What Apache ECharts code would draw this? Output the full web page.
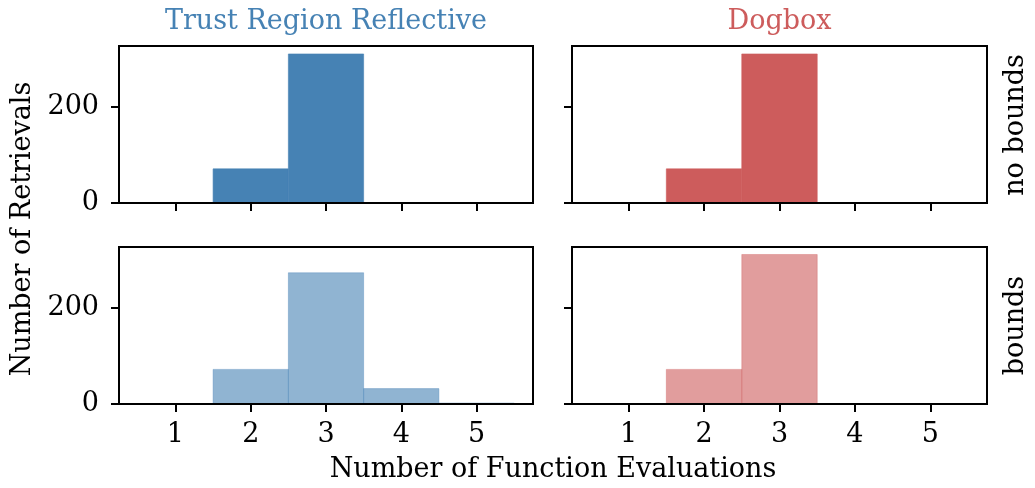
<!DOCTYPE html>
<html><head><meta charset="utf-8">
<script src="https://cdn.jsdelivr.net/npm/echarts@6/dist/echarts.min.js"></script>
<style>html,body{margin:0;padding:0;background:#fff}#c{width:1035px;height:488px}</style>
</head><body><div id="c"></div>
<script>
// Histogram bin centers (number of function evaluations)
const evals = [1, 2, 3, 4, 5];
// Counts per bin
const trfNoBounds = [0, 71, 310, 0, 0];
const dogNoBounds = [0, 71, 310, 0, 0];
const trfBounds   = [0, 72, 273, 32, 2];
const dogBounds   = [0, 72, 311, 0, 0];
const xTicks = [1, 2, 3, 4, 5];
const yTicks = [0, 200];
const colTitles = ['Trust Region Reflective', 'Dogbox'];
const rowTitles = ['no bounds', 'bounds'];

const FONT = 'DejaVu Serif';
const FS = 27;
const BLUE = '#4682B4', RED = '#CD5C5C';

const grids = [
  {left: 119, top: 46, width: 414, height: 157},
  {left: 572, top: 46, width: 415, height: 157},
  {left: 119, top: 247, width: 414, height: 157},
  {left: 572, top: 247, width: 415, height: 157}
];
const panels = [
  {data: trfNoBounds, color: BLUE, op: 1, xl: false, yl: true},
  {data: dogNoBounds, color: RED, op: 1, xl: false, yl: false},
  {data: trfBounds, color: BLUE, op: 0.6, xl: true, yl: true},
  {data: dogBounds, color: RED, op: 0.6, xl: true, yl: false}
];
const yMax = Math.max(...trfNoBounds, ...dogNoBounds, ...trfBounds, ...dogBounds) * 1.05;

const option = {
  animation: false,
  grid: grids.map(g => Object.assign({show: true, borderColor: '#000', borderWidth: 2, backgroundColor: 'transparent', z: 5}, g)),
  xAxis: panels.map((p, i) => ({
    type: 'value', gridIndex: i, min: 0.25, max: 5.75,
    axisLine: {show: false}, splitLine: {show: false},
    axisTick: {show: true, length: 8, lineStyle: {color: '#000', width: 2}, customValues: xTicks},
    axisLabel: {show: p.xl, customValues: xTicks, color: '#000', fontFamily: FONT, fontSize: FS, margin: 17}
  })),
  yAxis: panels.map((p, i) => ({
    type: 'value', gridIndex: i, min: 0, max: yMax,
    axisLine: {show: false}, splitLine: {show: false},
    axisTick: {show: true, length: 8, lineStyle: {color: '#000', width: 2}, customValues: yTicks},
    axisLabel: {show: p.yl, customValues: yTicks, color: '#000', fontFamily: FONT, fontSize: FS, margin: 20}
  })),
  series: panels.map((p, i) => ({
    type: 'custom', xAxisIndex: i, yAxisIndex: i,
    data: evals.map((e, k) => [e, p.data[k]]),
    renderItem: function (params, api) {
      const x = api.value(0), y = api.value(1);
      if (!y) return null;
      const a = api.coord([x - 0.5, y]);
      const b = api.coord([x + 0.5, 0]);
      return {type: 'rect', shape: {x: a[0], y: a[1], width: b[0] - a[0], height: b[1] - a[1]},
        style: {fill: p.color, stroke: p.color, lineWidth: 0.6, opacity: p.op}};
    }
  })),
  graphic: [
    {type: 'text', x: 326, y: 22, style: {text: colTitles[0], fill: BLUE, font: FS + 'px "' + FONT + '"', textAlign: 'center', textVerticalAlign: 'middle'}},
    {type: 'text', x: 779.5, y: 22, style: {text: colTitles[1], fill: RED, font: FS + 'px "' + FONT + '"', textAlign: 'center', textVerticalAlign: 'middle'}},
    {type: 'text', x: 23, y: 229, rotation: Math.PI / 2, style: {text: 'Number of Retrievals', fill: '#000', font: FS + 'px "' + FONT + '"', textAlign: 'center', textVerticalAlign: 'middle'}},
    {type: 'text', x: 553, y: 470, style: {text: 'Number of Function Evaluations', fill: '#000', font: FS + 'px "' + FONT + '"', textAlign: 'center', textVerticalAlign: 'middle'}},
    {type: 'text', x: 1016, y: 125, rotation: Math.PI / 2, style: {text: rowTitles[0], fill: '#000', font: FS + 'px "' + FONT + '"', textAlign: 'center', textVerticalAlign: 'middle'}},
    {type: 'text', x: 1016, y: 325.5, rotation: Math.PI / 2, style: {text: rowTitles[1], fill: '#000', font: FS + 'px "' + FONT + '"', textAlign: 'center', textVerticalAlign: 'middle'}}
  ]
};
echarts.init(document.getElementById('c'), null, {renderer: 'canvas'}).setOption(option);
</script></body></html>
